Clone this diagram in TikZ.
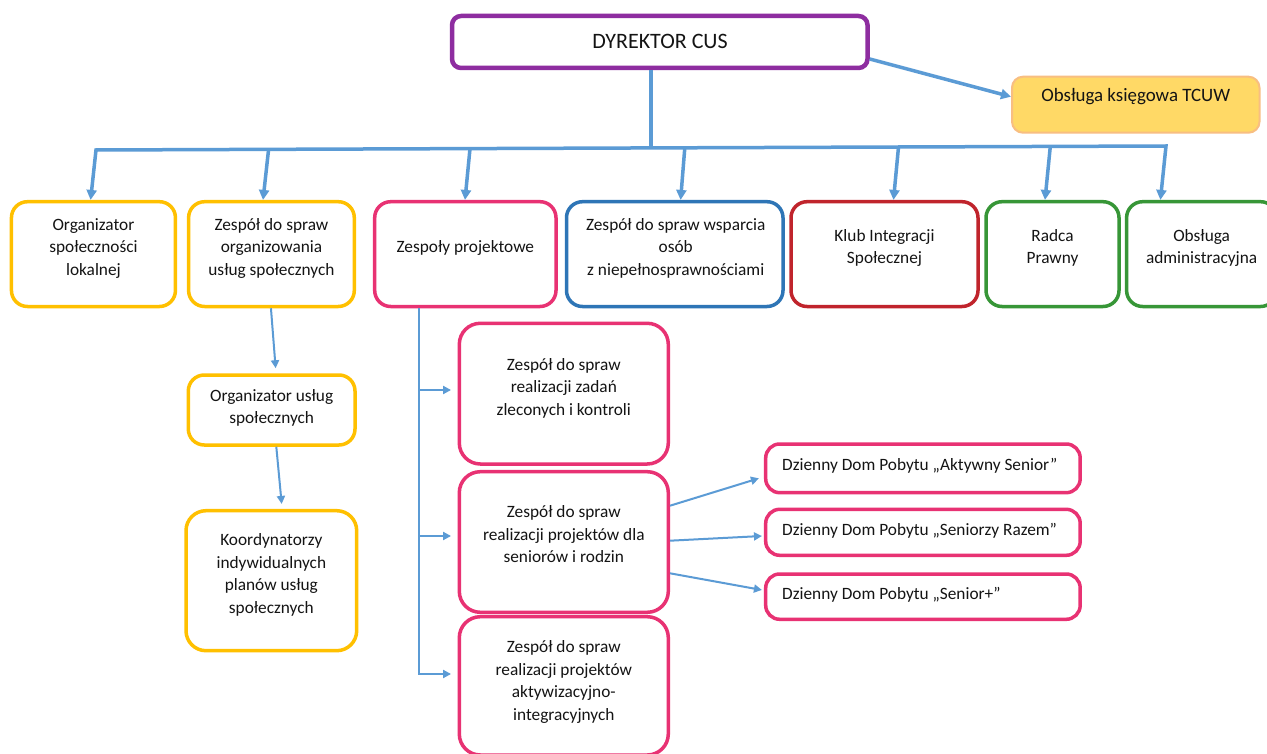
\documentclass[tikz,border=0pt]{standalone}
\usepackage{fontspec}
\setmainfont{Carlito}
\usetikzlibrary{arrows.meta,calc}
\definecolor{cPurple}{RGB}{142,45,160}
\definecolor{cYellow}{RGB}{255,192,0}
\definecolor{cPink}{RGB}{232,50,115}
\definecolor{cBlue}{RGB}{46,117,182}
\definecolor{cRed}{RGB}{192,36,44}
\definecolor{cGreen}{RGB}{55,150,55}
\definecolor{cLine}{RGB}{91,155,213}
\definecolor{cFill}{RGB}{255,217,102}
\definecolor{cFillBorder}{RGB}{248,190,130}
\definecolor{cText}{RGB}{20,20,20}
\tikzset{
  box/.style={draw, line width=3.5pt, rounded corners=16pt, inner sep=0pt},
  lbl/.style={align=center, inner sep=0pt, text=cText, font=\fontsize{17.3}{22.5}\selectfont},
  connthick/.style={draw=cLine, line width=3.5pt, -{Triangle[length=10pt,width=10pt]}},
  connthin/.style={draw=cLine, line width=2pt, -{Triangle[length=8pt,width=8pt]}},
}
\begin{document}
\begin{tikzpicture}[x=1pt,y=-1pt]
\useasboundingbox (0,0) rectangle (1267,754);
\fill[white] (0,0) rectangle (1267,754);
\clip (0,0) rectangle (1267,754);

% top
\node[box, draw=cPurple, line width=4.5pt, rounded corners=9pt, minimum width=415.5pt, minimum height=52pt] (dir) at (659.75,42) {};
\node[inner sep=0pt, text=cText, font=\fontsize{22}{26}\selectfont] (tdir) at (660,41.3) {DYREKTOR CUS};
\node[box, draw=cFillBorder, fill=cFill, line width=2pt, rounded corners=11pt, minimum width=247.5pt, minimum height=56pt] (ks) at (1135.75,104.7) {};
\node[lbl, font=\fontsize{18.9}{23}\selectfont] (tks) at (1135.7,97.3) {\strut Obsługa księgowa TCUW};

% first row
\node[box, draw=cYellow, minimum width=164pt, minimum height=104.8pt] (b1) at (93.45,254.1) {};
\node[box, draw=cYellow, minimum width=165.7pt, minimum height=104.8pt] (b2) at (271.45,254.1) {};
\node[box, draw=cPink, minimum width=181.3pt, minimum height=104.8pt] (b3) at (465.35,254.1) {};
\node[box, draw=cBlue, minimum width=216.5pt, minimum height=104.8pt] (b4) at (674.75,254.1) {};
\node[box, draw=cRed, minimum width=187pt, minimum height=104.8pt] (b5) at (884.5,254.1) {};
\node[box, draw=cGreen, minimum width=133pt, minimum height=104.8pt] (b6) at (1052.5,254.1) {};
\node[box, draw=cGreen, minimum width=150pt, minimum height=104.8pt] (b7) at (1201.6,254.1) {};

\node[lbl] (t1) at ([yshift=5.9pt]b1.center) {\strut Organizator\\\strut społeczności\\\strut lokalnej};
\node[lbl] (t2) at ([yshift=5.9pt]b2.center) {\strut Zespół do spraw\\\strut organizowania\\\strut usług społecznych};
\node[lbl] (t3) at ([yshift=6pt]b3.center) {\strut Zespoły projektowe};
\node[lbl] (t4) at ([yshift=5.9pt,xshift=1pt]b4.center) {\strut Zespół do spraw wsparcia\\\strut osób\\\strut z niepełnosprawnościami};
\node[lbl] (t5) at ([yshift=6pt]b5.center) {\strut Klub Integracji\\\strut Społecznej};
\node[lbl] (t6) at ([yshift=6pt]b6.center) {\strut Radca\\\strut Prawny};
\node[lbl] (t7) at ([yshift=6pt]b7.center) {\strut Obsługa\\\strut administracyjna};

% left column
\node[box, draw=cYellow, minimum width=166.7pt, minimum height=70pt] (ou) at (271.65,410) {};
\node[lbl] (tou) at ([yshift=2pt]ou.center) {\strut Organizator usług\\\strut społecznych};
\node[box, draw=cYellow, rounded corners=20pt, minimum width=170.7pt, minimum height=140pt] (ko) at (271.35,580.7) {};
\node[lbl] (tko) at ([yshift=5.7pt]ko.center) {\strut Koordynatorzy\\\strut indywidualnych\\\strut planów usług\\\strut społecznych};

% project teams
\node[box, draw=cPink, rounded corners=21pt, minimum width=209pt, minimum height=140.7pt] (za) at (563.8,393.65) {};
\node[lbl] (tza) at ([yshift=5.65pt]za.center) {\strut Zespół do spraw\\\strut realizacji zadań\\\strut zleconych i kontroli};
\node[box, draw=cPink, rounded corners=21pt, minimum width=209pt, minimum height=140.6pt] (zb) at (563.8,542) {};
\node[lbl] (tzb) at ([yshift=6.2pt]zb.center) {\strut Zespół do spraw\\\strut realizacji projektów dla\\\strut seniorów i rodzin};
\node[box, draw=cPink, rounded corners=21pt, minimum width=209pt, minimum height=138.3pt] (zc) at (563.8,685.85) {};
\node[lbl] (tzc) at ([yshift=3.95pt]zc.center) {\strut Zespół do spraw\\\strut realizacji projektów\\\strut aktywizacyjno-\\\strut integracyjnych};

% day care homes
\node[box, draw=cPink, rounded corners=14pt, minimum width=314.5pt, minimum height=48.7pt] (d1) at (922.95,468.35) {};
\node[lbl, anchor=west] (td1) at ([xshift=18pt,yshift=2.3pt]d1.west) {\strut Dzienny Dom Pobytu „Aktywny Senior”};
\node[box, draw=cPink, rounded corners=14pt, minimum width=314.5pt, minimum height=46pt] (d2) at (922.95,532.3) {};
\node[lbl, anchor=west] (td2) at ([xshift=18pt,yshift=1.3pt]d2.west) {\strut Dzienny Dom Pobytu „Seniorzy Razem”};
\node[box, draw=cPink, rounded corners=14pt, minimum width=314.5pt, minimum height=45.3pt] (d3) at (922.95,596.65) {};
\node[lbl, anchor=west] (td3) at ([xshift=18pt,yshift=1.65pt]d3.west) {\strut Dzienny Dom Pobytu „Senior+”};

% bus
\coordinate (busL) at (96,150);
\coordinate (busR) at (1166,146);
\coordinate (busD) at (651,147.9);
\coordinate (bus2) at (268.6,149.35);
\coordinate (bus3) at (470,148.6);
\coordinate (bus4) at (684.8,147.8);
\coordinate (bus5) at (898.5,147);
\coordinate (bus6) at (1050.3,146.4);

\draw[draw=cLine, line width=3.5pt] ([xshift=-8.75pt]dir.south) -- (busD);
\draw[draw=cLine, line width=3.5pt, {Triangle[length=10pt,width=10pt]}-{Triangle[length=10pt,width=10pt]}]
  ([xshift=-2.85pt]b1.north) -- (busL) -- (busR) -- ([xshift=-41.2pt]b7.north);
\draw[connthick] (bus2) -- ([xshift=-8.45pt]b2.north);
\draw[connthick] (bus3) -- ([xshift=-0.35pt]b3.north);
\draw[connthick] (bus4) -- ([xshift=5.85pt]b4.north);
\draw[connthick] (bus5) -- ([xshift=9pt]b5.north);
\draw[connthick] (bus6) -- ([xshift=-7.5pt]b6.north);
\draw[connthick] ([yshift=-17pt]dir.east) -- ([yshift=8pt]ks.west);

% left column arrows
\draw[connthin] ([xshift=-0.5pt]b2.south) -- ([xshift=4pt,yshift=5pt]ou.north);
\draw[connthin] ([xshift=4.65pt]ou.south) -- ([xshift=10.35pt,yshift=5pt]ko.north);

% project team arrows
\coordinate (pv) at ([xshift=-46.35pt]b3.south);
\coordinate (ea) at ([xshift=-6.5pt,yshift=3.65pt]za.west);
\coordinate (eb) at ([xshift=-6.5pt,yshift=6pt]zb.west);
\coordinate (ec) at ([xshift=-6.5pt,yshift=11.85pt]zc.west);
\draw[connthin] (pv) |- (ec);
\draw[connthin] (pv |- ea) -- (ea);
\draw[connthin] (pv |- eb) -- (eb);

% senior arrows
\draw[connthin] ([yshift=36.3pt]zb.east) -- ([xshift=-5pt,yshift=-9.95pt]d1.west);
\draw[connthin] ([yshift=1.3pt]zb.east) -- ([xshift=-2pt,yshift=-3.7pt]d2.west);
\draw[connthin] ([yshift=-31.3pt]zb.east) -- ([xshift=-2pt,yshift=6.65pt]d3.west);
\end{tikzpicture}
\end{document}
